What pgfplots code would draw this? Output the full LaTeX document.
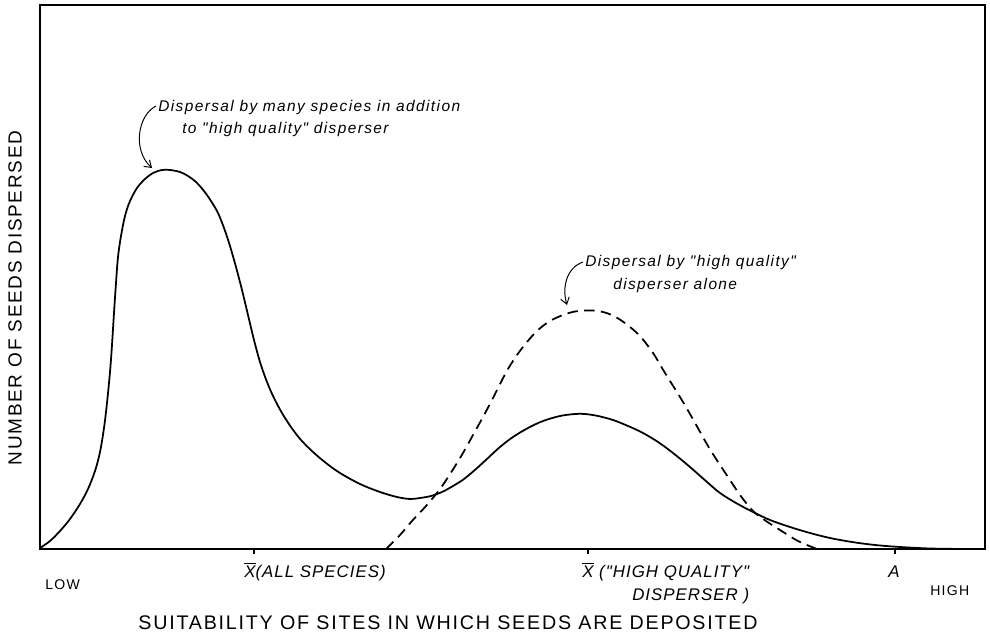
\documentclass[border=0pt]{standalone}
\usepackage{fontspec}
\setmainfont{Liberation Sans}
\newfontfamily\ltr[LetterSpace=6]{Liberation Sans}
\newfontfamily\ltrw[LetterSpace=9]{Liberation Sans}
\usepackage{pgfplots}
\usepackage{pgfplotstable}
\pgfplotsset{compat=1.18}
\usetikzlibrary{arrows.meta}

% pixel coordinates of the drawing (x to the right, y downward)
\pgfplotstableread{
x y
40 548
50 541
60 531
70 519
80 504
88 489
95 471
100 452
104 428
107 403
110 372
112 345
114 313
116 283
118 257
121 236
125 216
130 201
137 188
145 179
153 173
162 170
170 170
180 172
188 176
196 182
204 191
211 201
218 213
224 228
230 246
236 267
242 290
248 315
254 340
260 362
267 382
274 398
282 413
291 427
301 440
313 452
326 463
340 473
360 484
380 492
397 497
410 499
420 498
431 496
442 492
453 486
464 479
476 469
488 458
500 447
513 437
528 428
543 421
560 416
575 414
585 414
598 416
613 420
628 426
643 433
658 442
673 453
690 467
707 482
720 493
736 503
753 512
770 520
790 527
810 533
830 538
852 542
875 545
900 547
930 548.5
965 549
}\solidcurve

\pgfplotstableread{
x y
386 549
400 535
412 521
426 506
440 489
452 471
463 453
473 435
483 417
492 400
500 384
508 369
517 355
527 342
538 330
550 321
563 315
575 311.5
587 310.5
598 311
608 313.5
619 319
630 327
640 336
648 346
655 356
662 368
670 381
680 397
690 414
699 430
708 446
718 462
728 477
740 495
753 511
766 521
780 530
798 541
817 549
}\dashedcurve

\begin{document}
\begin{tikzpicture}
\useasboundingbox (-10mm,-21mm) rectangle (237.5mm,137.25mm);
\begin{axis}[
  at={(0,0)}, anchor=south west,
  scale only axis, width=236.25mm, height=136mm,
  xmin=40, xmax=985, ymin=0, ymax=544,
  clip=false,
  ytick=\empty,
  xtick={254,588,895}, xticklabels={{},{},{}},
  xtick pos=left, tick align=outside,
  major tick length=1.25mm,
  axis line style={line width=1.1pt},
  every tick/.style={black, line width=0.8pt},
]
\addplot[black, line width=1.25pt, smooth, tension=0.55] table[x=x, y expr=549-\thisrow{y}] {\solidcurve};
\addplot[black, line width=1.25pt, smooth, tension=0.55, dash pattern=on 2.6mm off 1.6mm] table[x=x, y expr=549-\thisrow{y}] {\dashedcurve};

% axis labels
\node[rotate=90, anchor=center, font=\ltrw\fontsize{13.5}{16}\selectfont] at (axis cs:15,251) {NUMBER OF SEEDS DISPERSED};
\node[anchor=base, font=\ltrw\fontsize{14}{16}\selectfont] at (axis cs:448,-80) {SUITABILITY OF SITES IN WHICH SEEDS ARE DEPOSITED};
\node[anchor=base west, inner sep=0pt, font=\ltrw\fontsize{10}{12}\selectfont] at (axis cs:45,-40) {LOW};
\node[anchor=base west, inner sep=0pt, font=\ltrw\fontsize{10}{12}\selectfont] at (axis cs:930,-46) {HIGH};

% tick labels
\node[anchor=base west, inner sep=0pt, font=\ltr\itshape\fontsize{12}{14}\selectfont] at (axis cs:244,-28) {\(\overline{\mbox{X}}\)(ALL SPECIES)};
\node[anchor=base west, inner sep=0pt, font=\ltr\itshape\fontsize{12}{14}\selectfont] at (axis cs:582,-28) {\(\overline{\mbox{X}}\) ("HIGH QUALITY"};
\node[anchor=base west, inner sep=0pt, font=\ltr\itshape\fontsize{12}{14}\selectfont] at (axis cs:632,-51) {DISPERSER )};
\node[anchor=base, inner sep=0pt, font=\ltr\itshape\fontsize{12}{14}\selectfont] at (axis cs:894,-28) {A};

% annotations
\node[anchor=base west, inner sep=0pt, font=\ltrw\itshape\fontsize{11}{13}\selectfont] at (axis cs:158,437) {Dispersal by many species in addition};
\node[anchor=base west, inner sep=0pt, font=\ltrw\itshape\fontsize{11}{13}\selectfont] at (axis cs:182,415) {to "high quality" disperser};
\draw[line width=0.7pt, -{Straight Barb[length=1.6mm, width=2.2mm]}] (axis cs:156,443) .. controls (axis cs:138,434) and (axis cs:132,399) .. (axis cs:152,381);

\node[anchor=base west, inner sep=0pt, font=\ltrw\itshape\fontsize{11}{13}\selectfont] at (axis cs:585,282) {Dispersal by "high quality"};
\node[anchor=base west, inner sep=0pt, font=\ltrw\itshape\fontsize{11}{13}\selectfont] at (axis cs:613,259) {disperser alone};
\draw[line width=0.7pt, -{Straight Barb[length=1.6mm, width=2.2mm]}] (axis cs:583,287) .. controls (axis cs:566,281) and (axis cs:562,261) .. (axis cs:567,244);
\end{axis}
\end{tikzpicture}
\end{document}
